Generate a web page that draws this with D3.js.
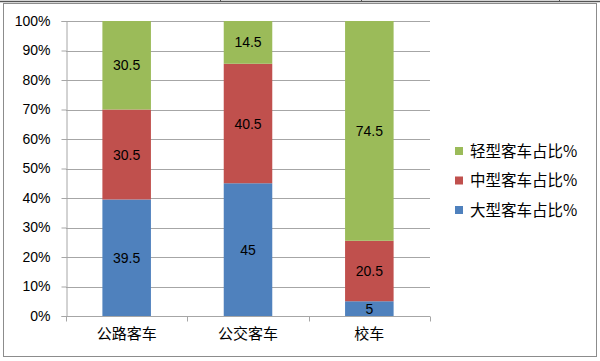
<!DOCTYPE html>
<html>
<head>
<meta charset="utf-8">
<script src="https://cdn.jsdelivr.net/npm/d3@7"></script>
<style>
  body { margin: 0; background: #fff; }
  svg { display: block; font-family: "Liberation Sans", "Noto Sans CJK SC", sans-serif; }
</style>
</head>
<body>
<svg id="chart" width="600" height="361"></svg>
<script>
// data
const categories = ["公路客车", "公交客车", "校车"];
const seriesNames = ["大型客车占比%", "中型客车占比%", "轻型客车占比%"];
const large = [39.5, 45, 5];
const medium = [30.5, 40.5, 20.5];
const light = [30.5, 14.5, 74.5];
const yTicks = [0, 10, 20, 30, 40, 50, 60, 70, 80, 90, 100];
const colors = ["#4F81BD", "#C0504D", "#9BBB59"];

const rows = categories.map((c, i) => ({ cat: c, s0: large[i], s1: medium[i], s2: light[i] }));
const stacked = d3.stack().keys(["s0", "s1", "s2"])(rows);

const svg = d3.select("#chart");

// outer frame + top strip
svg.append("rect").attr("x", 3.5).attr("y", 3.5).attr("width", 593).attr("height", 353)
  .attr("fill", "#fff").attr("stroke", "#8c8c8c");
svg.append("line").attr("x1", 0).attr("x2", 600).attr("y1", 1.5).attr("y2", 1.5)
  .attr("stroke", "#555").attr("stroke-width", 1.5);
[220, 361, 559].forEach(x => {
  svg.append("line").attr("x1", x + 0.5).attr("x2", x + 0.5).attr("y1", 0).attr("y2", 2)
    .attr("stroke", "#555");
});

const x = d3.scaleBand().domain(categories).range([66, 430]).paddingInner(0.6).paddingOuter(0.3);
const y = d3.scaleLinear().domain([0, 100]).range([316, 21]).clamp(true);

// gridlines
svg.append("g").selectAll("line").data(yTicks.filter(d => d > 0)).join("line")
  .attr("x1", 66).attr("x2", 430)
  .attr("y1", d => Math.round(y(d)) + 0.5).attr("y2", d => Math.round(y(d)) + 0.5)
  .attr("stroke", "#a6a6a6");

// bars
const layer = svg.append("g").selectAll("g").data(stacked).join("g")
  .attr("fill", (d, i) => colors[i]);
layer.selectAll("rect").data(d => d).join("rect")
  .attr("x", d => x(d.data.cat))
  .attr("width", x.bandwidth())
  .attr("y", d => y(d[1]))
  .attr("height", d => y(d[0]) - y(d[1]));

// data labels
layer.selectAll("text").data((d, i) => d.map(p => ({ p, v: p[1] - p[0] }))).join("text")
  .attr("x", d => x(d.p.data.cat) + x.bandwidth() / 2)
  .attr("y", d => (y(d.p[0]) + y(d.p[1])) / 2)
  .attr("dy", "0.36em")
  .attr("text-anchor", "middle")
  .attr("font-size", 14)
  .attr("fill", "#000")
  .text(d => d.v);

// y axis
const yAxis = svg.append("g").attr("transform", "translate(66.5,0)")
  .call(d3.axisLeft(y).tickValues(yTicks).tickSize(5).tickPadding(11).tickFormat(d => d + "%"));
yAxis.selectAll("line").attr("stroke", "#a6a6a6");
yAxis.select(".domain").attr("stroke", "#a6a6a6");
yAxis.selectAll("text").attr("font-size", 14).attr("fill", "#000")
  .attr("font-family", "Liberation Sans, sans-serif");

// x axis
const xAxis = svg.append("g").attr("transform", "translate(0,316.5)");
xAxis.append("line").attr("x1", 66).attr("x2", 430).attr("stroke", "#a6a6a6");
xAxis.selectAll(".tk").data(d3.range(categories.length + 1)).join("line")
  .attr("class", "tk")
  .attr("x1", i => Math.round(66 + i * (364 / 3)) + 0.5)
  .attr("x2", i => Math.round(66 + i * (364 / 3)) + 0.5)
  .attr("y1", 0).attr("y2", 5).attr("stroke", "#a6a6a6");
xAxis.selectAll("text").data(categories).join("text")
  .attr("x", d => x(d) + x.bandwidth() / 2)
  .attr("y", 22)
  .attr("text-anchor", "middle")
  .attr("font-size", 15)
  .attr("font-family", "Noto Sans CJK SC, sans-serif")
  .attr("fill", "#000")
  .text(d => d);

// legend (top to bottom: light, medium, large)
const legendItems = [2, 1, 0];
const lg = svg.append("g").selectAll("g").data(legendItems).join("g")
  .attr("transform", (d, i) => `translate(455,${151 + i * 29.5})`);
lg.append("rect").attr("x", 0).attr("y", -4).attr("width", 8).attr("height", 8)
  .attr("fill", d => colors[d]);
lg.append("text").attr("x", 15).attr("dy", "0.36em")
  .attr("font-size", 15.5)
  .attr("font-family", "Noto Sans CJK SC, sans-serif")
  .attr("fill", "#000")
  .text(d => seriesNames[d]);
</script>
</body>
</html>
